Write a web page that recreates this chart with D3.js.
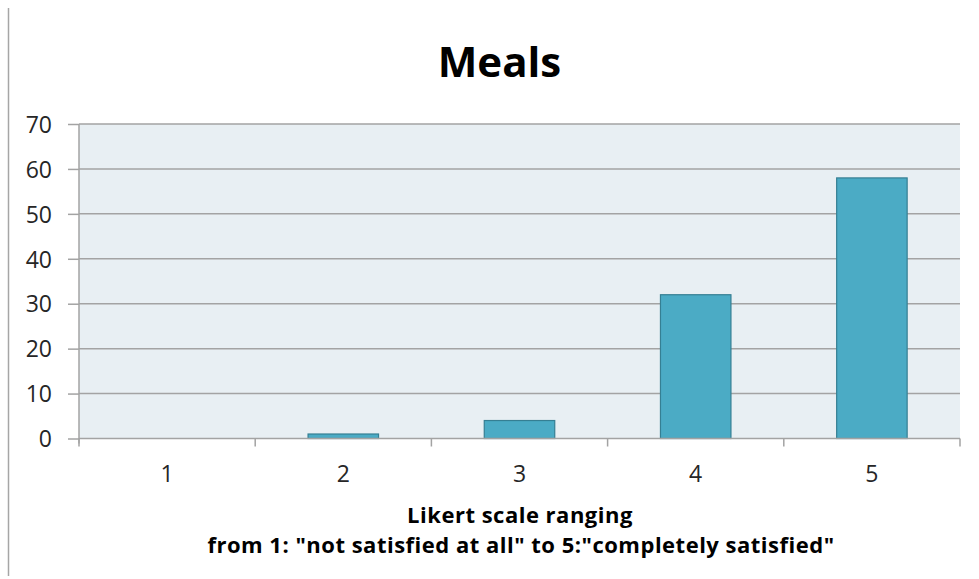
<!DOCTYPE html>
<html>
<head>
<meta charset="utf-8">
<script src="https://cdn.jsdelivr.net/npm/d3@7/dist/d3.min.js"></script>
<style>
  html, body { margin: 0; padding: 0; background: #fff; }
  svg { display: block; font-family: "Open Sans", Lato, sans-serif; }
</style>
</head>
<body>
<svg id="chart" width="979" height="579"></svg>
<script>
// Likert responses for the "Meals" question
const categories = ["1", "2", "3", "4", "5"];
const counts = [0, 1, 4, 32, 58];
const yTicks = [0, 10, 20, 30, 40, 50, 60, 70];
const chartTitle = "Meals";
const xTitleLines = ["Likert scale ranging", "from 1: \"not satisfied at all\" to 5:\"completely satisfied\""];

const svg = d3.select("#chart");
const plot = { left: 79, right: 960, top: 124, bottom: 438.5 };

// left border line of the frame
svg.append("line")
  .attr("x1", 8.5).attr("x2", 8.5).attr("y1", 8).attr("y2", 576)
  .attr("stroke", "#a6a6a6").attr("stroke-width", 1.5);

const x = d3.scaleBand().domain(categories).range([plot.left, plot.right]).paddingInner(0.6).paddingOuter(0.3);
const xEdge = d3.scaleLinear().domain([0, categories.length]).range([plot.left, plot.right]);
const y = d3.scaleLinear().domain([0, 70]).range([plot.bottom, plot.top]);

// plot background
svg.append("rect")
  .attr("x", plot.left).attr("y", plot.top)
  .attr("width", plot.right - plot.left).attr("height", plot.bottom - plot.top)
  .attr("fill", "#e8eff3");

// horizontal gridlines
svg.append("g").selectAll("line").data(yTicks.filter(d => d > 0)).join("line")
  .attr("x1", plot.left).attr("x2", plot.right)
  .attr("y1", d => y(d)).attr("y2", d => y(d))
  .attr("stroke", "#a3a3a3").attr("stroke-width", 1.5);

// y axis
const yAxis = svg.append("g").attr("transform", `translate(${plot.left},0)`)
  .call(d3.axisLeft(y).tickValues(yTicks).tickSize(11).tickPadding(16));
yAxis.attr("font-family", null).attr("font-size", null);
yAxis.select(".domain").attr("stroke", "#a3a3a3").attr("stroke-width", 1.5)
  .attr("d", `M0,${plot.top}V${plot.bottom + 5}`);
yAxis.selectAll(".tick line").attr("stroke", "#a3a3a3").attr("stroke-width", 1.5);
yAxis.selectAll(".tick text").attr("fill", "#262626").attr("font-size", 23).attr("dy", "0.36em");

// bars
svg.append("g").selectAll("rect").data(counts).join("rect")
  .attr("x", (d, i) => x(categories[i]))
  .attr("width", x.bandwidth())
  .attr("y", d => y(d))
  .attr("height", d => y(0) - y(d))
  .attr("fill", "#4babc5")
  .attr("stroke", "#357f93")
  .attr("stroke-width", d => d > 0 ? 1.2 : 0);

// x axis baseline and category boundary ticks
const xg = svg.append("g");
xg.append("line")
  .attr("x1", plot.left).attr("x2", plot.right)
  .attr("y1", plot.bottom).attr("y2", plot.bottom)
  .attr("stroke", "#a3a3a3").attr("stroke-width", 1.5);
xg.selectAll("line.tk").data(d3.range(categories.length + 1)).join("line")
  .attr("class", "tk")
  .attr("x1", d => xEdge(d)).attr("x2", d => xEdge(d))
  .attr("y1", plot.bottom).attr("y2", plot.bottom + 8)
  .attr("stroke", "#a3a3a3").attr("stroke-width", 1.5);
xg.selectAll("text").data(categories).join("text")
  .attr("x", d => x(d) + x.bandwidth() / 2)
  .attr("y", 481.5)
  .attr("text-anchor", "middle")
  .attr("fill", "#262626").attr("font-size", 23)
  .text(d => d);

// chart title
svg.append("text")
  .attr("x", 499.5).attr("y", 77)
  .attr("text-anchor", "middle")
  .attr("font-size", 42).attr("font-weight", "bold").attr("fill", "#000")
  .text(chartTitle);

// x axis title
svg.append("g").selectAll("text").data(xTitleLines).join("text")
  .attr("x", (d, i) => i === 0 ? 520 : 521)
  .attr("y", (d, i) => 523 + i * 30)
  .attr("text-anchor", "middle")
  .attr("font-size", 22).attr("font-weight", "bold").attr("fill", "#000")
  .attr("letter-spacing", 0.5)
  .text(d => d);
</script>
</body>
</html>
